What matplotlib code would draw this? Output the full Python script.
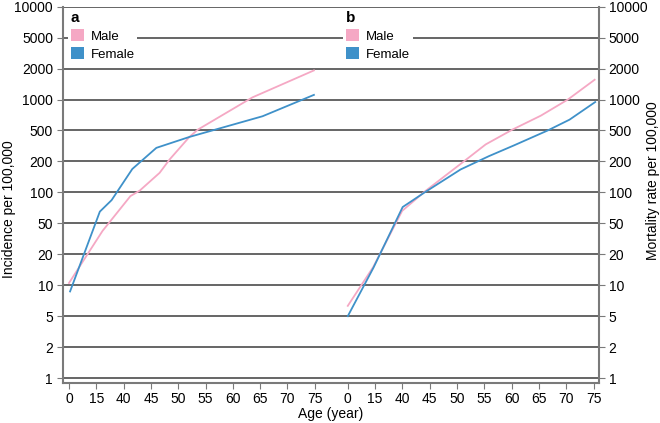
import numpy as np
import matplotlib.pyplot as plt
from matplotlib.patches import Patch

plt.rcParams['font.family'] = ['Liberation Sans', 'DejaVu Sans']

# y axis: equally spaced "nice" values
y_ticks = [1, 2, 5, 10, 20, 50, 100, 200, 500, 1000, 2000, 5000, 10000]
x_labels = ['0', '15', '40', '45', '50', '55', '60', '65', '70', '75']

# panel a - incidence (x = position along the age ticks)
inc_male_x = [0, 0.99, 1.23, 2.25, 2.59, 3.32, 3.68, 4.41, 4.72, 6.72, 8.97]
inc_male = [10.5, 29.6, 40, 92, 104, 155, 211, 413, 510, 1050, 1920]
inc_female_x = [0.04, 1.13, 1.56, 2.32, 3.2, 4.41, 7.09, 8.97]
inc_female = [8.7, 65, 84, 169, 299, 413, 688, 1110]

# panel b - mortality
mort_male_x = [0, 0.93, 1.99, 2.84, 4.25, 5.05, 6.03, 7.07, 8.06, 9.04]
mort_male = [6.3, 15, 66, 103, 200, 331, 510, 697, 1000, 1558]
mort_female_x = [0, 0.94, 2.01, 2.84, 4.13, 5.17, 6.09, 7.32, 8.12, 9.06]
mort_female = [5, 14.8, 72, 101, 167, 234, 322, 500, 637, 945]

pink = '#f5a8c4'
blue = '#3f91c9'
grid_col = '#3c3c3c'
spine_col = '#7a7a7a'
offset_b = 10.21  # where panel b starts on the shared x axis
fs = 10

# piecewise log scale so that every tick is equally spaced
tick_logs = np.log10([0.5] + y_ticks + [20000])
tick_idx = np.arange(-1, len(y_ticks) + 1, dtype=float)


def fwd(v):
    v = np.asarray(v, dtype=float)
    with np.errstate(divide='ignore', invalid='ignore'):
        lv = np.log10(np.where(v > 0, v, 1e-9))
    return np.interp(lv, tick_logs, tick_idx)


def inv(i):
    return 10 ** np.interp(np.asarray(i, dtype=float), tick_idx, tick_logs)


fig = plt.figure(figsize=(6.6, 4.23), dpi=100)
ax = fig.add_axes([62.7 / 660, 1 - 382.7 / 423, (599 - 62.7) / 660, (382.7 - 6.7) / 423])
ax.set_yscale('function', functions=(fwd, inv))

ax.plot(inc_male_x, inc_male, color=pink, lw=1.3)
ax.plot(inc_female_x, inc_female, color=blue, lw=1.3)
ax.plot([x + offset_b for x in mort_male_x], mort_male, color=pink, lw=1.3)
ax.plot([x + offset_b for x in mort_female_x], mort_female, color=blue, lw=1.3)

ax.set_ylim(float(inv(-0.15)), 10000)
ax.set_xlim(-0.23, 19.41)
ax.set_yticks(y_ticks)
ax.set_yticklabels([str(t) for t in y_ticks])
ax.minorticks_off()
xpos = list(range(10)) + [offset_b + i for i in range(10)]
ax.set_xticks(xpos)
ax.set_xticklabels(x_labels * 2)

ax.yaxis.grid(True, color=grid_col, lw=1.1)
ax.spines['top'].set_visible(False)
for s in ['left', 'right', 'bottom']:
    ax.spines[s].set_color(spine_col)
    ax.spines[s].set_linewidth(1.5)
ax.tick_params(axis='y', left=True, right=True, labelleft=True, labelright=True,
               direction='out', length=4, color=spine_col, labelsize=fs, pad=3)
ax.tick_params(axis='x', direction='out', length=4, color=spine_col, labelsize=fs, pad=3)

handles = [Patch(facecolor=pink, edgecolor='none', label='Male'),
           Patch(facecolor=blue, edgecolor='none', label='Female')]
leg_kw = dict(handles=handles, loc='upper left', alignment='left', frameon=True,
              fancybox=False, edgecolor='none', facecolor='white', framealpha=1,
              fontsize=9.5, title_fontproperties={'weight': 'bold', 'size': 11},
              handlelength=1.0, handleheight=1.0, handletextpad=0.5,
              labelspacing=0.32, borderpad=0.2, borderaxespad=0)
leg_a = ax.legend(title='a', bbox_to_anchor=(0.01, 0.995), **leg_kw)
ax.add_artist(leg_a)
ax.legend(title='b', bbox_to_anchor=(0.5235, 0.995), **leg_kw)

fig.text(9 / 660, 1 - 209 / 423, 'Incidence per 100,000', rotation=90,
         ha='center', va='center', fontsize=fs)
fig.text(653 / 660, 1 - 181 / 423, 'Mortality rate per 100,000', rotation=90,
         ha='center', va='center', fontsize=fs)
fig.text(331 / 660, 1 - 414 / 423, 'Age (year)', ha='center', va='center', fontsize=fs)

fig.savefig('out.png', dpi=100)
